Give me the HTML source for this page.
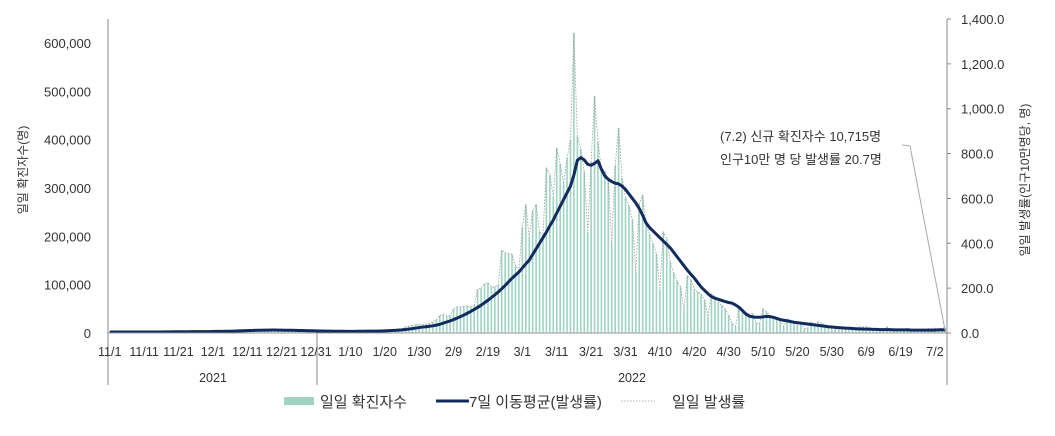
<!DOCTYPE html>
<html><head><meta charset="utf-8"><style>
body{margin:0;background:#fff;}
svg text{font-family:"Liberation Sans","Noto Sans CJK KR",sans-serif;fill:#333;}
</style></head><body>
<svg id="chart" width="1055" height="431" viewBox="0 0 1055 431" xmlns="http://www.w3.org/2000/svg">
<g id="bars"></g>
<g id="lines"></g>
<g id="axes"></g>
</svg>
<script>
// daily confirmed (thousands), 2021-11-01 .. 2022-07-02
const nov = [2.2,1.6,2.7,2.5,2.3,2.2,2.0,1.8,1.7,2.4,2.5,2.4,2.4,2.2,2.1,2.1,3.2,3.3,3.0,3.2,3.1,2.8,2.7,4.1,4.0,3.9,4.1,3.9,3.3,3.0];
const dec = [5.1,5.3,5.3,5.1,5.1,4.3,4.9,7.1,7.0,7.0,6.9,6.0,5.8,5.6,7.8,7.6,7.4,7.3,6.2,5.3,5.2,7.4,6.9,6.2,5.8,5.4,4.2,3.9,5.4,5.0,4.9];
const jan = [4.4,3.8,3.1,4.4,4.1,4.4,4.1,3.5,3.4,3.0,4.4,4.5,4.5,4.5,4.4,4.2,4.2,5.8,5.8,6.6,6.8,7.0,7.6,8.6,8.6,13.0,14.5,16.1,17.5,17.5,17.1];
const feb = [18.3,20.3,22.9,27.4,36.3,38.7,35.3,36.7,49.5,54.1,53.9,54.9,56.4,54.6,57.2,90.4,93.1,102,104,95.3,95.3,99.5,171,166,165,163,139,130];
const mar = [219,266,198,254,266,210,202,342,327,282,383,350,309,362,400,621,407,381,334,209,354,490,395,339,335,318,187,347,424,321,280];
const apr = [264,234,127,266,286,224,205,185,164,90,210,195,148,125,107,96,47,118,111,90,85,80,68,34,81,76,64,57,50,37];
const may = [20,14,51,49,42,39,40,20,20,50,44,36,32,30,26,14,29,27,22,21,20,9,10,23,18,23,20,17,13,9,14];
const jun = [13,10,9,12,5,9,13,12,13,11,9,5,7,5,13,9,9,7,7,4,10,8,8,7,7,3,9,9,10,9];
const jul = [10,10.7];
// 7-day moving average incidence (per 100k)
const maNov = [4.3,4.3,4.4,4.5,4.5,4.4,4.3,4.2,4.2,4.2,4.2,4.3,4.4,4.5,4.5,4.6,4.8,5.0,5.1,5.3,5.3,5.4,5.5,5.7,5.9,6.0,6.1,6.2,6.3,6.4];
const maDec = [6.8,7.0,7.3,7.5,7.8,8.0,8.5,9.0,9.5,10.0,10.5,11.0,11.5,12.0,12.5,12.8,13.0,13.2,13.1,12.9,12.6,12.5,12.3,12.0,11.8,11.4,11.0,10.6,10.2,9.8,9.4];
const maJan = [9.1,8.8,8.5,8.2,8.0,7.9,7.8,7.6,7.5,7.4,7.5,7.6,7.7,7.9,8.1,8.2,8.3,8.6,9.0,9.6,10.3,11.0,11.9,12.9,14.1,15.7,17.6,19.6,22.0,24.3,26.5];
const maFeb = [28,30,32,35,39,44,49,54,60,66,73,80,88,96,105,114,124,135,146,158,170,183,197,212,228,244,258,272];
const maMar = [290,308,325,350,375,400,425,450,478,504,535,565,595,625,655,705,770,782,772,752,748,756,768,730,700,685,675,668,665,655,640];
const maApr = [620,600,580,555,525,490,470,455,440,425,410,395,380,360,340,320,300,280,262,245,225,205,190,175,162,155,150,145,140,136];
const maMay = [133,125,115,100,85,75,72,70,70,72,74,73,70,65,60,57,54,51,48,46,44,42,40,38,36,34,32,30,28,27,25];
const maJun = [24,23,22,21,20,19,18,18,17,17,16,16,15,15,15,15,14,14,14,14,14,13,13,13,13,13,13,13,13,14];
const maJul = [14,14];
const leftTicks = [0,100000,200000,300000,400000,500000,600000];
const rightTicks = [0,200,400,600,800,1000,1200,1400];
const xLabels = ["11/1","11/11","11/21","12/1","12/11","12/21","12/31","1/10","1/20","1/30","2/9","2/19","3/1","3/11","3/21","3/31","4/10","4/20","4/30","5/10","5/20","5/30","6/9","6/19","7/2"];
const xLabelIdx = [0,10,20,30,40,50,60,70,80,90,100,110,120,130,140,150,160,170,180,190,200,210,220,230,243];

const daily = [].concat(nov,dec,jan,feb,mar,apr,may,jun,jul).map(v=>v*1000);
const ma = [].concat(maNov,maDec,maJan,maFeb,maMar,maApr,maMay,maJun,maJul);
const NS="http://www.w3.org/2000/svg";
const X0=108,X1=947,Y0=333;
const n=daily.length, step=(X1-X0)/n;
const x=i=>X0+(i+0.5)*step;
const yL=v=>Y0-v*(290/600000);
const yR=v=>Y0-v*(314/1400);
function mk(tag,attrs,parent,txt){const e=document.createElementNS(NS,tag);for(const k in attrs)e.setAttribute(k,attrs[k]);if(txt!==undefined)e.textContent=txt;parent.appendChild(e);return e;}
const gb=document.getElementById('bars'),gl=document.getElementById('lines'),ga=document.getElementById('axes');
daily.forEach((v,i)=>{
  const r=mk('rect',{x:x(i)-0.8,y:yL(v),width:1.6,height:Y0-yL(v),fill:'#9fd4c2'},gb);
  
  
});
const dp=mk('polyline',{points:daily.map((v,i)=>x(i)+','+yL(v)).join(' '),fill:'none',stroke:'#9a9a9a','stroke-width':0.8,'stroke-dasharray':'1.5,1.5'},gl);


const mp=mk('polyline',{points:ma.map((v,i)=>x(i)+','+yR(v)).join(' '),fill:'none',stroke:'#112b5e','stroke-width':3,'stroke-linejoin':'round'},gl);


// axes
mk('line',{x1:X0,y1:Y0,x2:X1,y2:Y0,stroke:'#999','stroke-width':1},ga);
[[X0,19],[317,333],[X1,19]].forEach(p=>{const l=mk('line',{x1:p[0],y1:p[1],x2:p[0],y2:385,stroke:'#888','stroke-width':1},ga);});
leftTicks.forEach(v=>{const t=mk('text',{x:91,y:yL(v)+5,'text-anchor':'end','font-size':13},ga,v.toLocaleString('en-US'));});
rightTicks.forEach(v=>{mk('line',{x1:X1,y1:yR(v),x2:X1+4,y2:yR(v),stroke:'#888'},ga);const t=mk('text',{x:961,y:yR(v)+5,'font-size':13},ga,v.toLocaleString('en-US',{minimumFractionDigits:1}));});
xLabels.forEach((s,k)=>{const t=mk('text',{x:Math.min(x(xLabelIdx[k]),935),y:356,'text-anchor':'middle','font-size':12.5},ga,s);});
</script>
<svg style="position:absolute;left:0;top:0" width="1055" height="431">
<text x="213" y="382" text-anchor="middle" font-size="12.5">2021</text>
<text x="632" y="382" text-anchor="middle" font-size="12.5">2022</text>
<text transform="translate(27,170) rotate(-90)" text-anchor="middle" font-size="12">일일 확진자수(명)</text>
<text transform="translate(1029,180) rotate(-90)" text-anchor="middle" font-size="12">일일 발생률(인구10만명당, 명)</text>
<text x="720" y="141" font-size="13">(7.2) 신규 확진자수 10,715명</text>
<text x="720" y="164" font-size="13">인구10만 명 당 발생률 20.7명</text>
<polyline points="902,145 910,146 945,330" fill="none" stroke="#aaa" stroke-width="1"/>
<g>
<rect x="284" y="397" width="30" height="8" fill="#9fd4c2"/>
<text x="320" y="407" font-size="15">일일 확진자수</text>
<line x1="436" y1="401" x2="469" y2="401" stroke="#112b5e" stroke-width="3"/>
<text x="469" y="407" font-size="15">7일 이동평균(발생률)</text>
<line x1="621" y1="401" x2="655" y2="401" stroke="#9a9a9a" stroke-width="0.8" stroke-dasharray="1.5,1.5"/>
<text x="672" y="407" font-size="15">일일 발생률</text>
</g>
</svg>
</body></html>
